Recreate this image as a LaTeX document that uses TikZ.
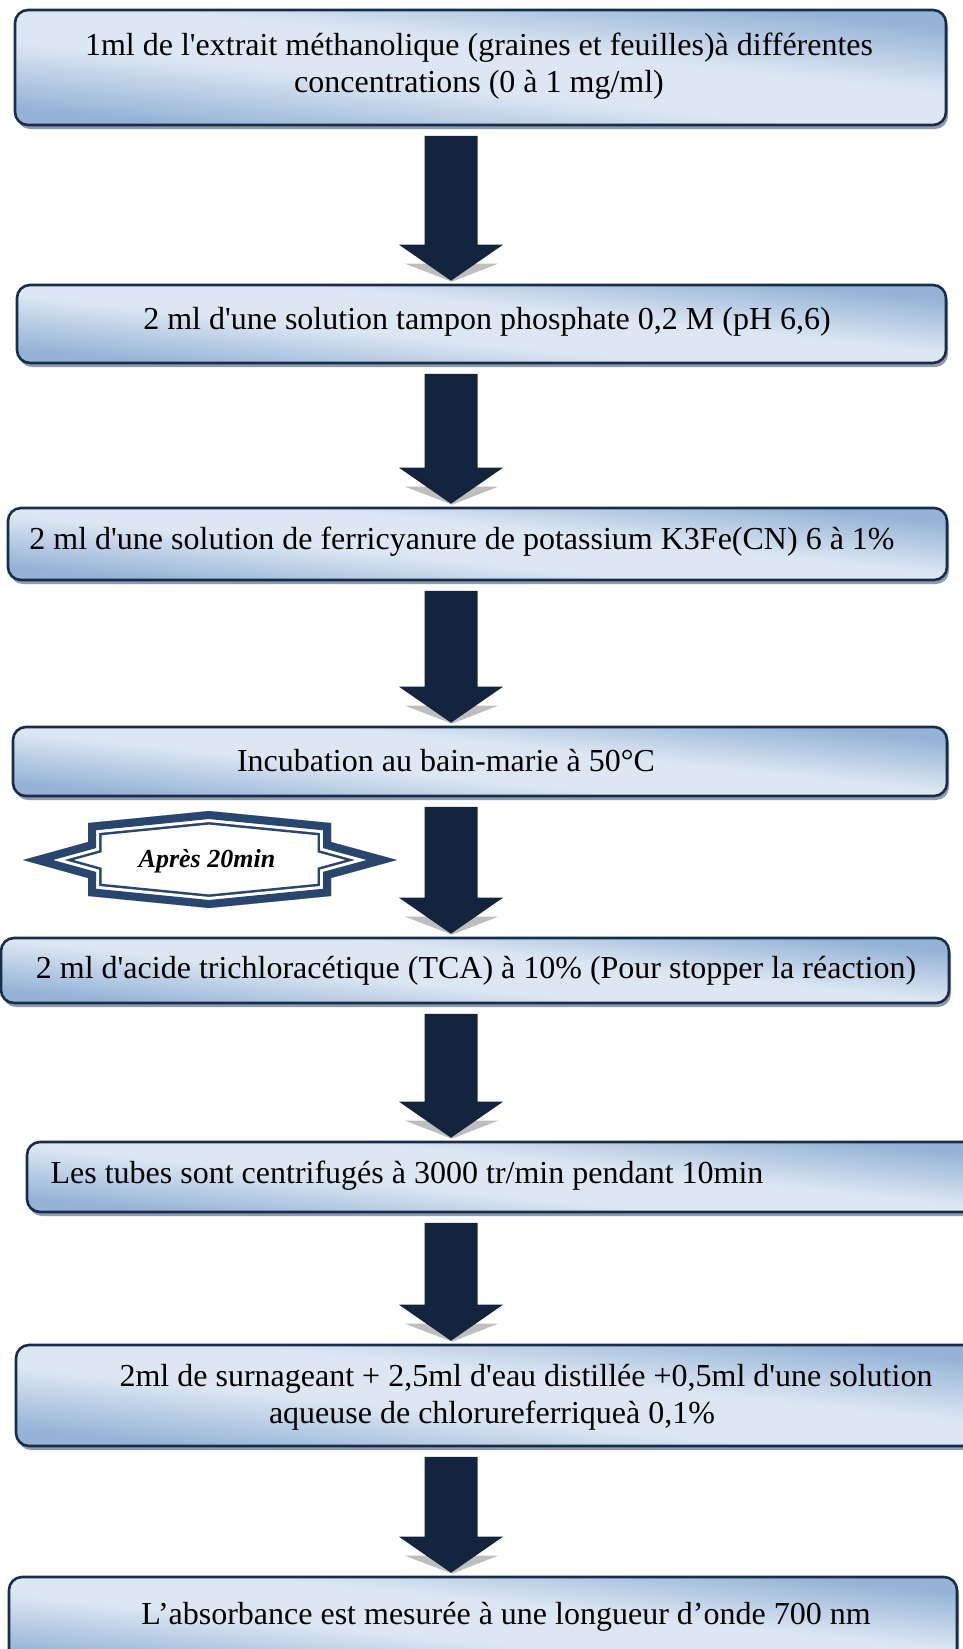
\documentclass[tikz,border=0pt]{standalone}
\usepackage{fontspec}
\setmainfont{Liberation Serif}[Ligatures=TeXOff]
\usetikzlibrary{calc,shadows}

\definecolor{boxdark}{RGB}{149,179,215}
\definecolor{boxlight}{RGB}{221,231,243}
\definecolor{boxline}{RGB}{24,45,74}
\definecolor{shadowc}{RGB}{142,155,172}
\definecolor{arrowc}{RGB}{19,37,62}
\definecolor{arrowshade}{RGB}{190,190,190}
\definecolor{starc}{RGB}{40,70,110}

\pgfdeclareverticalshading{boxfill}{100bp}{color(0bp)=(boxdark); color(27bp)=(boxdark); color(44bp)=(boxlight); color(56bp)=(boxlight); color(73bp)=(boxdark); color(100bp)=(boxdark)}

\tikzset{
  stepbox/.style={rounded corners=13pt, draw=boxline, line width=2.6pt,
    shading=boxfill, shading angle=-6, inner sep=0pt,
    general shadow={fill=shadowc, shadow xshift=2pt, shadow yshift=-4pt}},
  txt/.style={font=\fontsize{32}{37}\selectfont, align=center, inner sep=0pt},
  flow/.style={fill=arrowc, to path={
    let \p1=(\tikztostart), \p2=(\tikztotarget) in
    (\x1-26.5pt,\y1) -- (\x1+26.5pt,\y1) -- (\x1+26.5pt,\y2+36pt) -- (\x1+52pt,\y2+36pt)
    -- (\x1,\y2) -- (\x1-52pt,\y2+36pt) -- (\x1-26.5pt,\y2+36pt) -- cycle}},
  flowshadow/.style={fill=arrowshade, to path={
    let \p1=(\tikztostart), \p2=(\tikztotarget) in
    (\x1-46pt,\y2+17pt) -- (\x1+47pt,\y2+17pt) -- (\x1+1pt,\y2-1pt) -- cycle}}
}

\newcommand\starpoly{(23,860) -- (88,842) -- (88,823) -- (209,811) -- (331,823) -- (331,842)
  -- (397,860) -- (331,878) -- (331,896) -- (209,908) -- (88,896) -- (88,878) -- cycle}

\begin{document}
\begin{tikzpicture}[x=1pt,y=-1pt]
\useasboundingbox (0,0) rectangle (963,1649);

% process steps
\node[stepbox, minimum width=931pt, minimum height=115pt] (b1) at (480.5,67.5) {};
\node[stepbox, minimum width=929pt, minimum height=78pt]  (b2) at (481.5,324) {};
\node[stepbox, minimum width=939pt, minimum height=72pt]  (b3) at (477.5,544) {};
\node[stepbox, minimum width=934pt, minimum height=69pt]  (b4) at (480,761.5) {};
\node[stepbox, minimum width=948pt, minimum height=65pt]  (b5) at (475,970.5) {};
\node[stepbox, minimum width=963pt, minimum height=70pt]  (b6) at (508.5,1177) {};
\node[stepbox, minimum width=974pt, minimum height=101pt] (b7) at (503,1395.5) {};
\node[stepbox, minimum width=948pt, minimum height=90pt]  (b8) at (483,1622) {};

\node[txt] (t1) at (479,66) {1ml de l'extrait méthanolique (graines et feuilles)à différentes\\concentrations (0 à 1 mg/ml)};
\node[txt] (t2) at (487,322) {2 ml d'une solution tampon phosphate 0,2 M (pH 6,6)};
\node[txt] (t3) at (462,542) {2 ml d'une solution de ferricyanure de potassium K3Fe(CN) 6 à 1\%};
\node[txt] (t4) at (446,761) {Incubation au bain-marie à 50°C};
\node[txt] (t5) at (476,971) {2 ml d'acide trichloracétique (TCA) à 10\% (Pour stopper la réaction)};
\node[txt] (t6) at (407,1176) {Les tubes sont centrifugés à 3000 tr/min pendant 10min};
\node[txt] (t7a) at (526,1379) {2ml de surnageant + 2,5ml d'eau distillée +0,5ml d'une solution};
\node[txt] (t7b) at (492,1416) {aqueuse de chlorureferriqueà 0,1\%};
\node[txt] (t8) at (506,1617) {L’absorbance est mesurée à une longueur d’onde 700 nm};

% block arrows between the steps
\coordinate (axis) at (451,0);
\foreach \a/\b in {b1/b2,b2/b3,b3/b4,b4/b5,b5/b6,b6/b7,b7/b8} {
  \path[flowshadow] ($(\a.south -| axis)+(0,9.5)$) to ($(\b.north -| axis)+(0,-3)$);
  \path[flow] ($(\a.south -| axis)+(0,9.5)$) to ($(\b.north -| axis)+(0,-3)$);
}

% waiting-time badge
\begin{scope}
  \clip \starpoly;
  \fill[white] (0,800) rectangle (420,920);
  \draw[starc, line width=27pt, line join=miter] \starpoly;
  \draw[white, line width=22pt, line join=miter] \starpoly;
  \draw[starc, line width=16pt, line join=miter] \starpoly;
\end{scope}
\node[font=\bfseries\itshape\fontsize{26}{30}\selectfont, inner sep=0pt] (wait) at (207,861) {Après 20min};
\end{tikzpicture}
\end{document}
